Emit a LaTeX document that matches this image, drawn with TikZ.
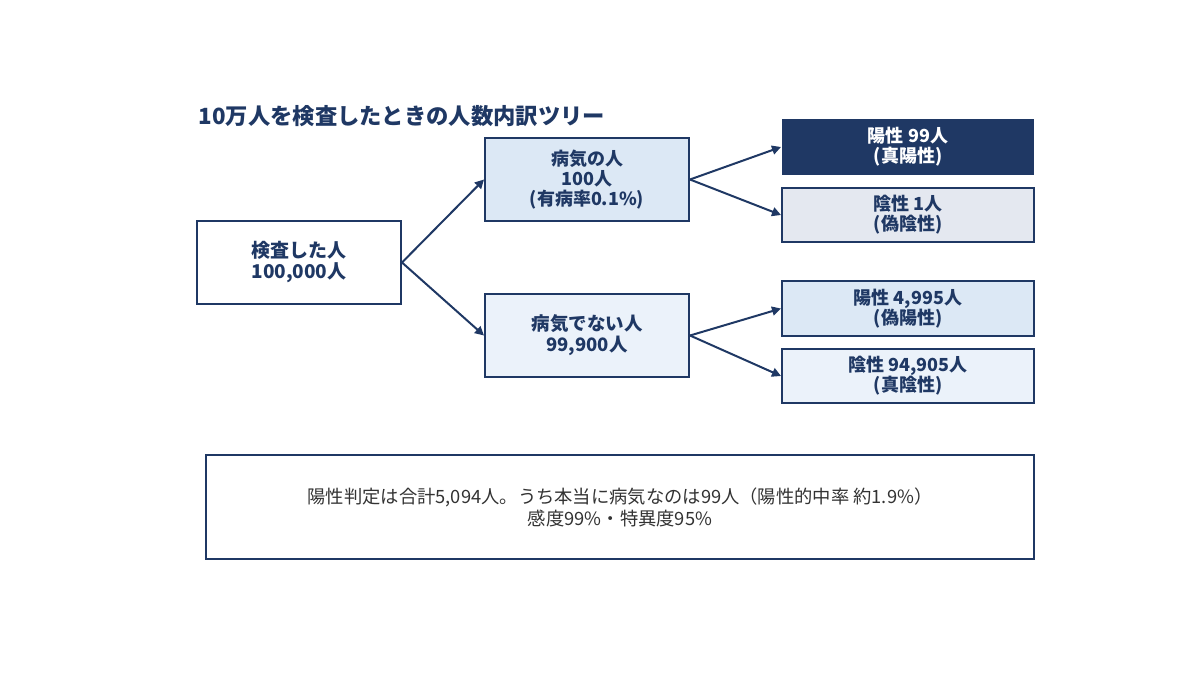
\documentclass[tikz,border=0pt]{standalone}
\usepackage{fontspec}
\setmainfont{Noto Sans CJK JP}
\usetikzlibrary{arrows.meta}

\definecolor{navy}{RGB}{31,56,100}
\definecolor{sickfill}{RGB}{220,232,245}
\definecolor{healthyfill}{RGB}{235,242,250}
\definecolor{fnfill}{RGB}{228,232,240}
\definecolor{notegray}{RGB}{51,51,51}

\tikzset{every picture/.style={line width=0.75pt}}
\tikzset{
  box/.style={draw=navy, line width=2pt, text=navy, align=center, inner sep=0pt,
    font=\fontsize{18}{20}\selectfont\bfseries},
  branch/.style={draw=navy, line width=2pt, -{Triangle[length=9pt,width=9pt]}}
}

\begin{document}
\begin{tikzpicture}[x=1pt,y=1pt,yscale=-1,xscale=1]
	\useasboundingbox (0,0) rectangle (1200,675);

	% Title
	\node (title) [anchor=west, text=navy, font=\fontsize{22.3}{24}\selectfont\bfseries] at (195,116) {10万人を検査したときの人数内訳ツリー};

	% Root
	\node (root) [box, fill=white, minimum width=204pt, minimum height=83pt, font=\fontsize{19}{21}\selectfont\bfseries] at (299,262.5) {検査した人\\100,000人};

	% Second level
	\node (sick) [box, fill=sickfill, minimum width=204pt, minimum height=83pt] at (587,179.5) {病気の人\\100人\\(有病率0.1\%)};
	\node (healthy) [box, fill=healthyfill, minimum width=204pt, minimum height=83pt, font=\fontsize{18.5}{21}\selectfont\bfseries] at (587,335.5) {病気でない人\\99,900人};

	% Leaves
	\node (tp) [box, draw=white, line width=1pt, fill=navy, text=white, minimum width=253pt, minimum height=57pt] at (908,147) {陽性 99人\\(真陽性)};
	\node (fn) [box, fill=fnfill, minimum width=252pt, minimum height=54pt] at (908,215) {陰性 1人\\(偽陰性)};
	\node (fp) [box, fill=sickfill, minimum width=252pt, minimum height=55pt] at (908,308.5) {陽性 4,995人\\(偽陽性)};
	\node (tn) [box, fill=healthyfill, minimum width=252pt, minimum height=54pt] at (908,376) {陰性 94,905人\\(真陰性)};

	% Branches
	\draw [branch] (root.east) -- (sick.west);
	\draw [branch] (root.east) -- (healthy.west);
	\draw [branch] (sick.east) -- (tp.west);
	\draw [branch] (sick.east) -- (fn.west);
	\draw [branch] (healthy.east) -- (fp.west);
	\draw [branch] (healthy.east) -- (tn.west);

	% Summary
	\node (note) [draw=navy, line width=2pt, fill=white, text=notegray, align=center, inner sep=0pt, minimum width=828pt, minimum height=104pt, font=\fontsize{18.3}{22}\selectfont] at (620,507) {陽性判定は合計5,094人。うち本当に病気なのは99人（陽性的中率 約1.9\%）\\感度99\%・特異度95\%};

\end{tikzpicture}
\end{document}
